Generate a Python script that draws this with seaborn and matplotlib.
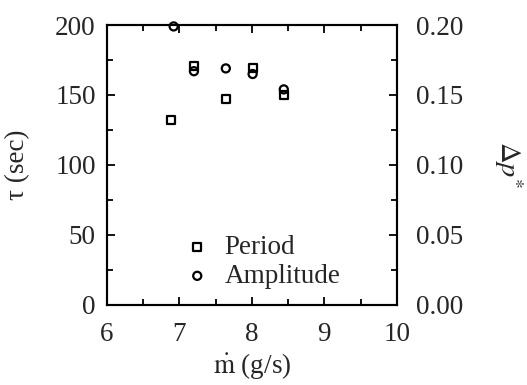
import matplotlib
matplotlib.use("Agg")
import matplotlib.pyplot as plt
import seaborn as sns
import pandas as pd
from matplotlib.ticker import MultipleLocator, FormatStrFormatter

# data
flow = [6.88, 7.20, 7.64, 8.01, 8.44]          # m-dot (g/s)
period = [132, 171, 147, 169, 150]             # tau (sec)
amp_flow = [6.92, 7.20, 7.64, 8.01, 8.44]
amplitude = [0.199, 0.167, 0.169, 0.165, 0.154]  # delta p*

sns.set_theme(style="ticks")
plt.rcParams['font.family'] = ['Liberation Serif', 'DejaVu Serif']
plt.rcParams['mathtext.fontset'] = 'stix'

FS = 19.5

fig = plt.figure(figsize=(5.27, 3.85), dpi=100)
ax = fig.add_axes([0.203, 0.208, 0.550, 0.727])
ax2 = ax.twinx()

df_p = pd.DataFrame({"flow": flow, "tau": period})
df_a = pd.DataFrame({"flow": amp_flow, "dp": amplitude})

sns.scatterplot(data=df_p, x="flow", y="tau", ax=ax, marker="s", s=34,
                facecolors="none", edgecolor="black", linewidth=1.6, zorder=3)
sns.scatterplot(data=df_a, x="flow", y="dp", ax=ax2, marker="o", s=34,
                facecolors="none", edgecolor="black", linewidth=1.6, zorder=3,
                clip_on=False)

ax.set_xlim(6, 10)
ax.set_ylim(0, 200)
ax2.set_ylim(0, 0.20)

ax.xaxis.set_major_locator(MultipleLocator(1))
ax.xaxis.set_minor_locator(MultipleLocator(0.5))
ax.yaxis.set_major_locator(MultipleLocator(50))
ax.yaxis.set_minor_locator(MultipleLocator(25))
ax2.yaxis.set_major_locator(MultipleLocator(0.05))
ax2.yaxis.set_minor_locator(MultipleLocator(0.025))
ax2.yaxis.set_major_formatter(FormatStrFormatter('%.2f'))

ax.tick_params(axis='x', which='both', direction='in', top=True, labelsize=FS,
               pad=12, width=1.3, color='black')
ax.tick_params(axis='x', which='major', length=6)
ax.tick_params(axis='x', which='minor', length=4)
ax.tick_params(axis='y', which='both', direction='in', labelsize=FS, pad=8,
               width=1.3, color='black')
ax.tick_params(axis='y', which='major', length=6)
ax.tick_params(axis='y', which='minor', length=4)
ax2.tick_params(axis='y', which='both', direction='in', labelsize=FS, pad=14,
                width=1.3, color='black')
ax2.tick_params(axis='y', which='major', length=6)
ax2.tick_params(axis='y', which='minor', length=4)

for a in (ax, ax2):
    for sp in a.spines.values():
        sp.set_linewidth(1.5)
        sp.set_color('black')

ax.set_xlabel(r'$\dot{\mathrm{m}}$ (g/s)', fontsize=FS, labelpad=4)
ax.set_ylabel('τ (sec)', fontsize=FS, labelpad=18)
ax2.set_ylabel(r'$\Delta p^{*}$', fontsize=FS + 1, rotation=270, labelpad=44)

handles = [ax.collections[0], ax2.collections[0]]
ax.legend(handles, ['Period', 'Amplitude'], loc='lower center',
          bbox_to_anchor=(0.53, -0.03), frameon=False, fontsize=FS,
          handletextpad=0.4, labelspacing=0.15, handlelength=1.2)

fig.savefig("out.png", dpi=100)
